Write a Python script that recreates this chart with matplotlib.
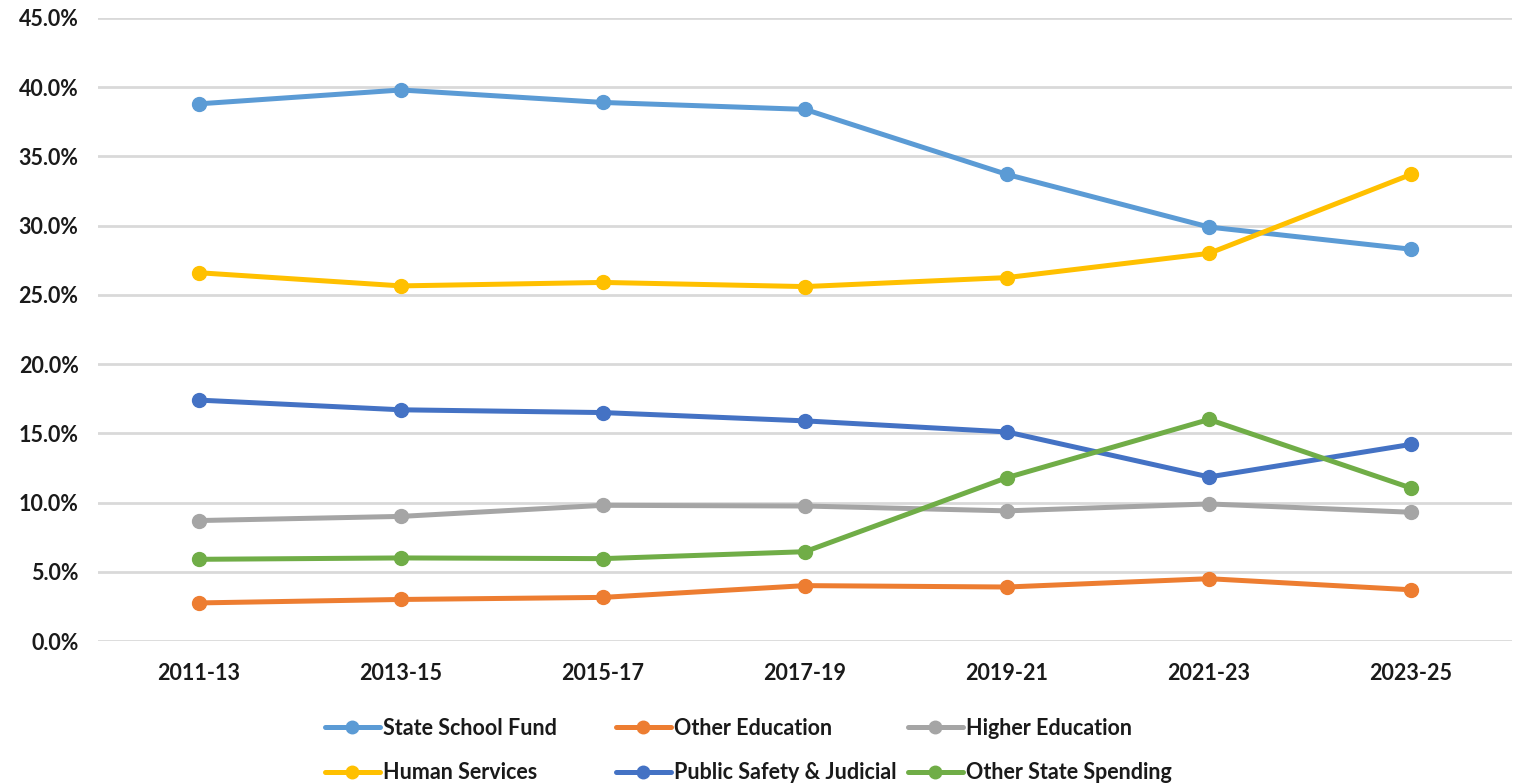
import matplotlib
matplotlib.use("Agg")
import matplotlib.pyplot as plt
from matplotlib.ticker import FuncFormatter, MultipleLocator

plt.rcParams['font.family'] = ['Lato', 'DejaVu Sans']

periods = ["2011-13", "2013-15", "2015-17", "2017-19", "2019-21", "2021-23", "2023-25"]
state_school_fund = [38.8, 39.8, 38.9, 38.4, 33.7, 29.9, 28.3]
other_education = [2.75, 3.0, 3.15, 4.0, 3.9, 4.5, 3.7]
higher_education = [8.7, 9.0, 9.8, 9.75, 9.4, 9.9, 9.3]
human_services = [26.6, 25.65, 25.9, 25.6, 26.25, 28.0, 33.7]
public_safety = [17.4, 16.7, 16.5, 15.9, 15.1, 11.85, 14.2]
other_state = [5.9, 6.0, 5.95, 6.45, 11.8, 16.0, 11.05]

series = [
    ("State School Fund", state_school_fund, "#5B9BD5"),
    ("Other Education", other_education, "#ED7D31"),
    ("Higher Education", higher_education, "#A5A5A5"),
    ("Human Services", human_services, "#FFC000"),
    ("Public Safety & Judicial", public_safety, "#4472C4"),
    ("Other State Spending", other_state, "#70AD47"),
]

fig = plt.figure(figsize=(15.24, 7.83), dpi=100)
ax = fig.add_axes([98/1524, 1-641/783, (1512-98)/1524, (641-18)/783])

x = list(range(len(periods)))
handles = {}
for name, vals, col in series:
    h, = ax.plot(x, vals, color=col, lw=3.6, marker='o', ms=10, label=name,
                 solid_capstyle='round', clip_on=False)
    handles[name] = h

ax.set_xlim(-0.5, len(periods) - 0.5)
ax.set_ylim(0, 45)
ax.yaxis.set_major_locator(MultipleLocator(5))
ax.yaxis.set_major_formatter(FuncFormatter(lambda v, p: f"{v:.1f}%"))
ax.set_xticks(x)
ax.set_xticklabels(periods)
ax.grid(axis='y', color='#D9D9D9', lw=2)
ax.set_axisbelow(True)
for s in ax.spines.values():
    s.set_visible(False)
ax.tick_params(length=0, labelsize=15.5)
ax.tick_params(axis='x', pad=16)
ax.tick_params(axis='y', pad=14)
for lab in ax.get_xticklabels() + ax.get_yticklabels():
    lab.set_fontweight('bold')
    lab.set_color('#1a1a1a')

columns = [["State School Fund", "Human Services"],
           ["Other Education", "Public Safety & Judicial"],
           ["Higher Education", "Other State Spending"]]
col_x = [325, 616, 908]
for names, cx in zip(columns, col_x):
    leg = fig.legend([handles[n] for n in names], names, ncol=1, loc='center left',
                     bbox_to_anchor=(cx/1524, 1-750.5/783), frameon=False,
                     borderpad=0, borderaxespad=0,
                     handlelength=2.55, handletextpad=0.15, markerscale=0.9,
                     labelspacing=1.1, prop={'size': 15.5, 'weight': 'bold'})
    for t in leg.get_texts():
        t.set_color('#1a1a1a')

fig.savefig("out.png", dpi=100)
